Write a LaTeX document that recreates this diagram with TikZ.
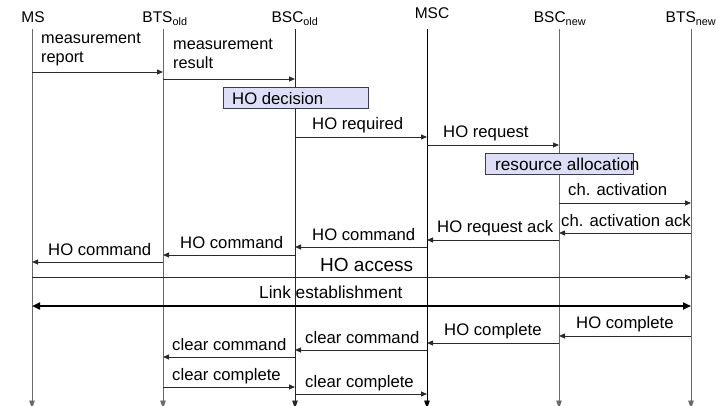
\documentclass[tikz,border=0pt]{standalone}
\usepackage{fontspec}
\setmainfont{Liberation Sans}
\usetikzlibrary{arrows.meta}

\definecolor{lifegray}{HTML}{6A6A6A}
\definecolor{msgcol}{HTML}{2A2A2A}
\definecolor{boxfill}{HTML}{DEDEF7}
\definecolor{boxline}{HTML}{3C3C50}

\tikzset{
  life/.style={line width=0.9pt, draw=lifegray, -{Triangle[length=8pt,width=5.5pt]}},
  msg/.style={line width=0.8pt, draw=msgcol, -{Triangle[length=6pt,width=5pt]}},
  bigmsg/.style={line width=2.4pt, draw=black, {Triangle[length=8pt,width=7pt]}-{Triangle[length=8pt,width=7pt]}},
  head/.style={inner sep=0pt, anchor=base, font=\fontsize{15.5}{18}\selectfont},
  lbl/.style={inner sep=0pt, anchor=base west, font=\fontsize{16.7}{19}\selectfont},
  lbl2/.style={lbl, align=left, font=\fontsize{16.3}{19.5}\selectfont},
  actbox/.style={draw=boxline, fill=boxfill, line width=0.8pt},
}

\begin{document}
\begin{tikzpicture}[x=1pt, y=-1pt]
\useasboundingbox (0,0) rectangle (725,406);
\clip (0,0) rectangle (725,406);

% entity headers
\node[head] (hMS)   at (33,23)  {MS};
\node[head] (hBTSo) at (165,23) {BTS\textsubscript{old}};
\node[head] (hBSCo) at (295,23) {BSC\textsubscript{old}};
\node[head] (hMSC)  at (432,19) {MSC};
\node[head] (hBSCn) at (560,23) {BSC\textsubscript{new}};
\node[head] (hBTSn) at (691,23) {BTS\textsubscript{new}};

% lifeline anchors
\coordinate (MS)   at (32,29);
\coordinate (BTSo) at (163,29);
\coordinate (BSCo) at (295,29);
\coordinate (MSC)  at (427,29);
\coordinate (BSCn) at (559,29);
\coordinate (BTSn) at (691,29);
\coordinate (bottom) at (0,408.5);

% lifelines
\draw[life] (MS)   -- (MS |- bottom);
\draw[life] (BTSo) -- (BTSo |- bottom);
\draw[life, draw=black!85] (BSCo) -- (BSCo |- bottom);
\draw[life, draw=black] (MSC)  -- (MSC |- bottom);
\draw[life] (BSCn) -- (BSCn |- bottom);
\draw[life] (BTSn) -- (BTSn |- bottom);

% message rows
\coordinate (r1)  at (0,72);
\coordinate (r2)  at (0,79);
\coordinate (r3)  at (0,137);
\coordinate (r4)  at (0,145);
\coordinate (r5)  at (0,203);
\coordinate (r6)  at (0,233);
\coordinate (r7)  at (0,240);
\coordinate (r8)  at (0,247);
\coordinate (r9)  at (0,255);
\coordinate (r10) at (0,262);
\coordinate (r11) at (0,277);
\coordinate (r12) at (0,306);
\coordinate (r13) at (0,336);
\coordinate (r14) at (0,343);
\coordinate (r15) at (0,350);
\coordinate (r16) at (0,357);
\coordinate (r17) at (0,387);
\coordinate (r18) at (0,394);

% measurement (base anchor sits on the last line)
\draw[msg] (MS |- r1) -- (BTSo |- r1);
\node[lbl2] (tMeasRep) at (41,63) {measurement\\report};
\draw[msg] (BTSo |- r2) -- (BSCo |- r2);
\node[lbl2] (tMeasRes) at (173,69) {measurement\\result};

% handover decision
\draw[actbox] (223,87) rectangle (368,108);
\node[lbl] (tDecision) at (232,105) {HO decision};

\draw[msg] (BSCo |- r3) -- (MSC |- r3);
\node[lbl] (tRequired) at (312,130) {HO required};
\draw[msg] (MSC |- r4) -- (BSCn |- r4);
\node[lbl] (tRequest) at (443,138) {HO request};

% resource allocation
\draw[actbox] (485,153) rectangle (633,174);
\node[lbl, font=\fontsize{17.2}{20}\selectfont] (tResource) at (495,171) {resource allocation};

\draw[msg] (BSCn |- r5) -- (BTSn |- r5);
\node[lbl] (tChAct) at (568,196) {ch. activation};
\draw[msg] (BTSn |- r6) -- (BSCn |- r6);
\node[lbl] (tChAck) at (561,226) {ch. activation ack};
\draw[msg] (BSCn |- r7) -- (MSC |- r7);
\node[lbl] (tReqAck) at (437,233) {HO request ack};
\draw[msg] (MSC |- r8) -- (BSCo |- r8);
\node[lbl] (tCmd1) at (312,240) {HO command};
\draw[msg] (BSCo |- r9) -- (BTSo |- r9);
\node[lbl] (tCmd2) at (180,248) {HO command};
\draw[msg] (BTSo |- r10) -- (MS |- r10);
\node[lbl] (tCmd3) at (48,255) {HO command};

% access and link
\draw[msg] (MS |- r11) -- (BTSn |- r11);
\node[lbl, font=\fontsize{19}{22}\selectfont] (tAccess) at (320,271) {HO access};
\draw[bigmsg] (MS |- r12) -- (BTSn |- r12);
\node[lbl, font=\fontsize{17.3}{20}\selectfont] (tLink) at (259,298) {Link establishment};

% completion
\draw[msg] (BTSn |- r13) -- (BSCn |- r13);
\node[lbl] (tComp1) at (576,328) {HO complete};
\draw[msg] (BSCn |- r14) -- (MSC |- r14);
\node[lbl] (tComp2) at (444,335) {HO complete};
\draw[msg] (MSC |- r15) -- (BSCo |- r15);
\node[lbl] (tClr1) at (305,343) {clear command};
\draw[msg] (BSCo |- r16) -- (BTSo |- r16);
\node[lbl] (tClr2) at (172,350) {clear command};
\draw[msg] (BTSo |- r17) -- (BSCo |- r17);
\node[lbl] (tClrC1) at (172,380) {clear complete};
\draw[msg] (BSCo |- r18) -- (MSC |- r18);
\node[lbl] (tClrC2) at (305,387) {clear complete};
\end{tikzpicture}
\end{document}
